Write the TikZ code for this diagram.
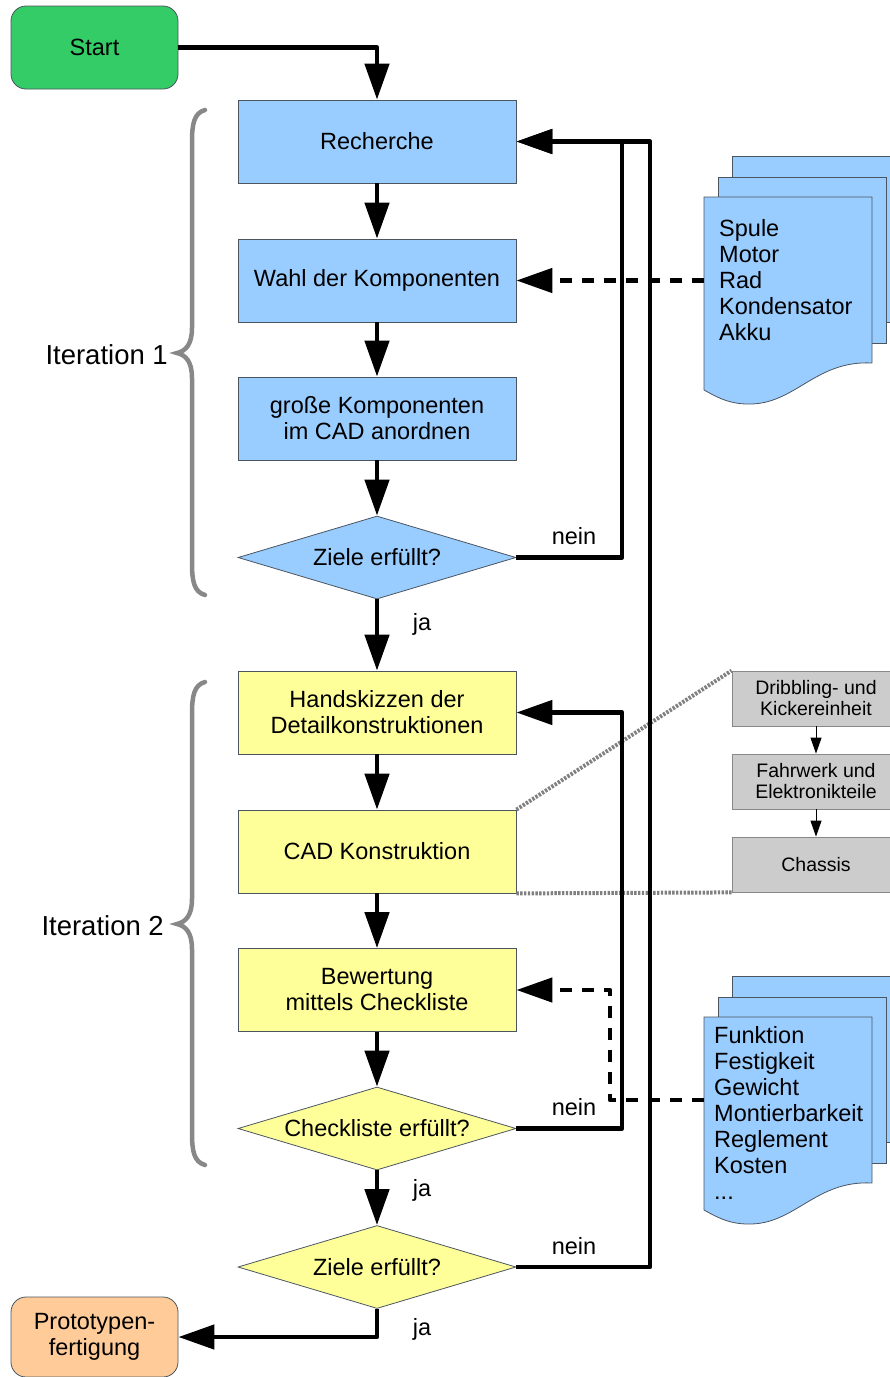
\documentclass[tikz,border=0pt]{standalone}
\usepackage{fontspec}
\setmainfont{Liberation Sans}
\usetikzlibrary{arrows.meta,shapes.geometric}
\definecolor{cblue}{HTML}{99CCFF}
\definecolor{cyellow}{HTML}{FFFF99}
\definecolor{cgreen}{HTML}{33CC66}
\definecolor{corange}{HTML}{FFCC99}
\definecolor{cgray}{HTML}{CCCCCC}
\definecolor{cbrace}{HTML}{888888}
\definecolor{cborder}{HTML}{4A5560}
\tikzset{
  mainfont/.style={font=\fontsize{23.5}{26}\selectfont},
  box/.style={rectangle, draw=cborder, line width=0.8pt, minimum width=278pt, minimum height=83pt, inner sep=0pt, align=center, mainfont},
  bluebox/.style={box, fill=cblue},
  yellowbox/.style={box, fill=cyellow},
  decision/.style={diamond, draw=cborder, line width=0.8pt, minimum width=278pt, minimum height=83pt, shape aspect=3.35, inner sep=0pt, align=center, mainfont},
  terminal/.style={rectangle, rounded corners=15pt, draw=cborder, line width=0.8pt, minimum width=167pt, inner sep=0pt, align=center, mainfont},
  graybox/.style={rectangle, draw=cbrace, line width=0.8pt, fill=cgray, minimum width=168pt, minimum height=55pt, inner sep=0pt, align=center, font=\fontsize{19.5}{21}\selectfont},
  flow/.style={line width=4.7pt, line join=round, -{Triangle[length=36pt,width=24pt]}},
  dflow/.style={flow, dash pattern=on 12pt off 10pt},
  thinflow/.style={line width=1pt, -{Triangle[length=16pt,width=11pt]}},
  dotline/.style={draw=black!50, line width=4pt, dash pattern=on 2.4pt off 1.4pt},
  bracepath/.style={draw=cbrace, line width=4.5pt, line cap=round},
  page/.style={draw=cborder, line width=0.8pt, fill=cblue},
  doctext/.style={align=left, inner sep=0pt, font=\fontsize{23.5}{26}\selectfont},
  lbl/.style={inner sep=0pt, mainfont},
  itlabel/.style={inner sep=0pt, font=\fontsize{27.5}{30}\selectfont, anchor=east}
}
\newcommand\mydocpages{%
  \draw[page] (732,156) rectangle (900,322);
  \draw[page] (718,177) rectangle (886,343);
  \draw[page] (704,197) -- (872,197) -- (872,363) .. controls (815,360) and (795,405) .. (748,404) .. controls (728,404) and (715,396) .. (704,390) -- cycle;
}
\begin{document}
\begin{tikzpicture}[x=1pt,y=-1pt]
\useasboundingbox (0,0) rectangle (890,1377);

% terminals
\node[terminal, fill=cgreen, minimum height=83pt] (start) at (94.5,47.5) {Start};
\node[terminal, fill=corange, minimum height=80pt] (proto) at (94.5,1337) {Prototypen-\\fertigung};

% iteration 1
\node[bluebox] (rech) at (377,141.5) {Recherche};
\node[bluebox] (wahl) at (377,280.5) {Wahl der Komponenten};
\node[bluebox] (gross) at (377,418.5) {große Komponenten\\im CAD anordnen};
\node[decision, fill=cblue] (d1) at (377,557.5) {Ziele erfüllt?};

% iteration 2
\node[yellowbox] (hand) at (377,712.5) {Handskizzen der\\Detailkonstruktionen};
\node[yellowbox] (cad) at (377,851.5) {CAD Konstruktion};
\node[yellowbox] (bew) at (377,990) {Bewertung\\mittels Checkliste};
\node[decision, fill=cyellow] (d2) at (377,1128.5) {Checkliste erfüllt?};
\node[decision, fill=cyellow] (d3) at (377,1267) {Ziele erfüllt?};

% gray boxes
\node[graybox] (g1) at (816,698.5) {Dribbling- und\\Kickereinheit};
\node[graybox] (g2) at (816,781.5) {Fahrwerk und\\Elektronikteile};
\node[graybox] (g3) at (816,864.5) {Chassis};
\draw[thinflow] (g1.south) -- (g2.north);
\draw[thinflow] (g2.south) -- (g3.north);

% dotted zoom lines
\draw[dotline] (cad.north east) -- (g1.north west);
\draw[dotline] (cad.south east) -- (g3.south west);

% documents
\mydocpages
\node[doctext, anchor=north west] (docA) at (719,219) {Spule\\Motor\\Rad\\Kondensator\\Akku};
\coordinate (docAin) at (704,280.5);
\begin{scope}[yshift=-820pt]
\mydocpages
\end{scope}
\node[doctext, anchor=north west] (docB) at (714,1026) {Funktion\\Festigkeit\\Gewicht\\Montierbarkeit\\Reglement\\Kosten\\...};
\coordinate (docBin) at (704,1100);

% braces
\draw[bracepath] (205,110) .. controls (194,113) and (192,124) .. (192,142) -- (192,328) .. controls (192,344) and (186,351) .. (177,353) .. controls (186,355) and (192,362) .. (192,378) -- (192,563) .. controls (192,581) and (194,592) .. (205,595);
\draw[bracepath] (205,682) .. controls (194,685) and (192,696) .. (192,714) -- (192,899) .. controls (192,915) and (186,922) .. (177,924) .. controls (186,926) and (192,933) .. (192,949) -- (192,1133) .. controls (192,1151) and (194,1162) .. (205,1165);
\node[itlabel] (it1) at (168,355) {Iteration 1};
\node[itlabel] (it2) at (164,926) {Iteration 2};

% main flow
\draw[flow] (start.east) -| (rech.north);
\draw[flow] (rech.south) -- (wahl.north);
\draw[flow] (wahl.south) -- (gross.north);
\draw[flow] (gross.south) -- (d1.north);
\draw[flow] (d1.south) -- (hand.north);
\draw[flow] (hand.south) -- (cad.north);
\draw[flow] (cad.south) -- (bew.north);
\draw[flow] (bew.south) -- (d2.north);
\draw[flow] (d2.south) -- (d3.north);
\draw[flow] (d3.south) |- (proto.east);

% loops
\coordinate (c1) at (622,141.5);
\coordinate (c2) at (650,141.5);
\coordinate (c3) at (622,712.5);
\coordinate (c4) at (610,990);
\draw[flow] (d1.east) -| (c1) -- (rech.east);
\draw[flow] (d3.east) -| (c2) -- (rech.east);
\draw[flow] (d2.east) -| (c3) -- (hand.east);
\draw[dflow] (docAin) -- (wahl.east);
\draw[dflow] (docBin) -| (c4) -- (bew.east);

% labels
\node[lbl] (n1) at (574,536) {nein};
\node[lbl] (n2) at (574,1107) {nein};
\node[lbl] (n3) at (574,1246) {nein};
\node[lbl] (j1) at (422,624) {ja};
\node[lbl] (j2) at (422,1190) {ja};
\node[lbl] (j3) at (422,1329) {ja};
\end{tikzpicture}
\end{document}
